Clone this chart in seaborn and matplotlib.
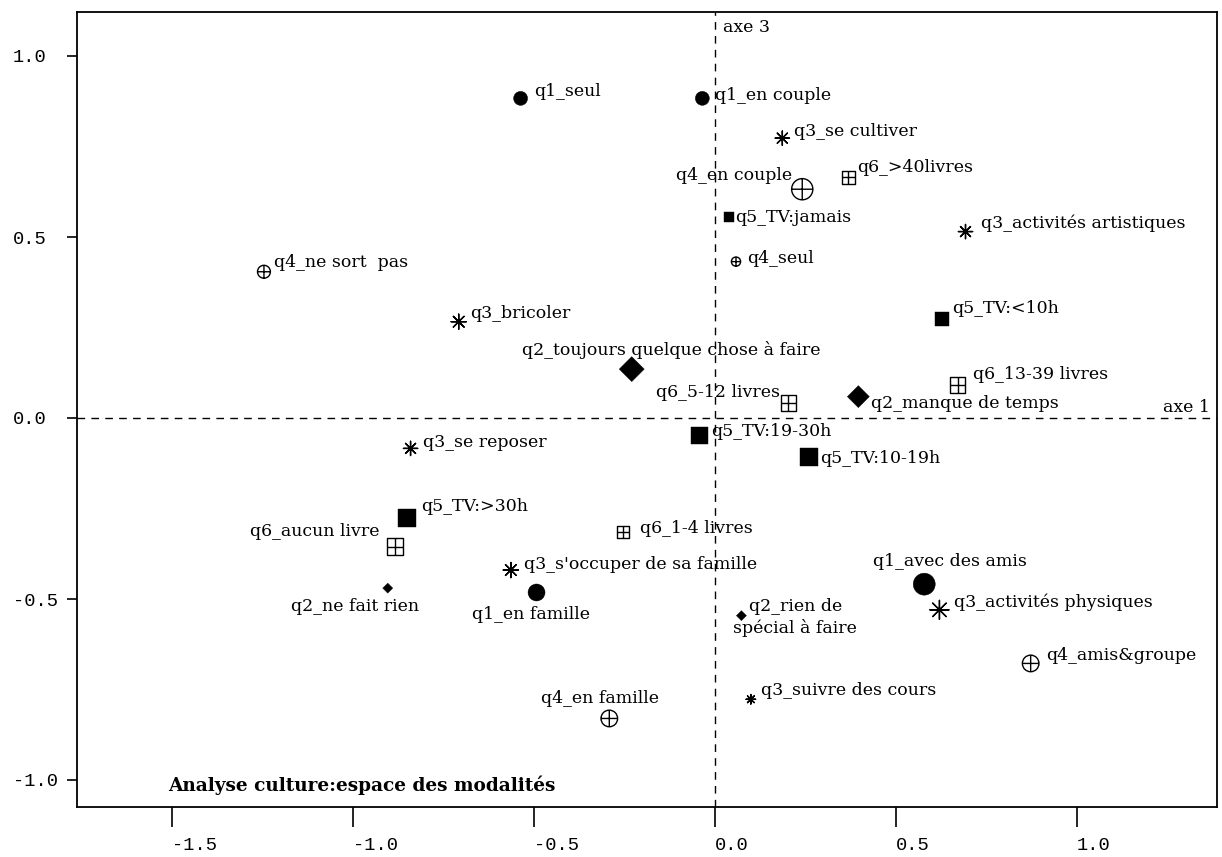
import pandas as pd
import matplotlib.pyplot as plt
import seaborn as sns
from matplotlib.path import Path

# Modalités et coordonnées sur le plan factoriel (axe 1 / axe 3)
modalites = [
    "q1_seul", "q1_en couple", "q1_en famille", "q1_avec des amis",
    "q2_toujours quelque chose à faire", "q2_manque de temps", "q2_ne fait rien",
    "q2_rien de\nspécial à faire",
    "q3_se cultiver", "q3_activités artistiques", "q3_bricoler", "q3_se reposer",
    "q3_s'occuper de sa famille", "q3_activités physiques", "q3_suivre des cours",
    "q4_en couple", "q4_ne sort  pas", "q4_seul", "q4_en famille", "q4_amis&groupe",
    "q5_TV:jamais", "q5_TV:<10h", "q5_TV:19-30h", "q5_TV:10-19h", "q5_TV:>30h",
    "q6_>40livres", "q6_5-12 livres", "q6_13-39 livres", "q6_aucun livre", "q6_1-4 livres",
]
axe1 = [
    -0.537, -0.035, -0.493, 0.578,
    -0.230, 0.396, -0.904, 0.073,
    0.186, 0.692, -0.708, -0.841, -0.564, 0.620, 0.099,
    0.241, -1.246, 0.058, -0.292, 0.872,
    0.040, 0.627, -0.044, 0.259, -0.850,
    0.368, 0.203, 0.670, -0.884, -0.253,
]
axe3 = [
    0.883, 0.883, -0.482, -0.459,
    0.135, 0.059, -0.470, -0.546,
    0.773, 0.515, 0.266, -0.084, -0.420, -0.530, -0.777,
    0.632, 0.404, 0.432, -0.830, -0.678,
    0.554, 0.273, -0.047, -0.107, -0.277,
    0.665, 0.041, 0.091, -0.355, -0.316,
]
# poids relatif de chaque modalité (taille du symbole)
poids = [
    1.96, 1.96, 2.89, 4.84,
    6.25, 4.84, 1.00, 1.00,
    2.25, 2.25, 2.56, 2.25, 2.56, 4.00, 1.00,
    5.29, 1.96, 1.00, 3.24, 3.24,
    1.00, 1.96, 2.89, 3.24, 3.24,
    1.96, 2.89, 2.89, 3.24, 1.69,
]

xticks = [-1.5, -1.0, -0.5, 0.0, 0.5, 1.0]
yticks = [-1.0, -0.5, 0.0, 0.5, 1.0]
titre = "Analyse culture:espace des modalités"

# Placement des étiquettes : décalage en pixels (dx, dy vers le bas) et alignement
placement = {
    "q1_seul": (14, -7, "left"),
    "q1_en couple": (13, -3, "left"),
    "q1_en famille": (-6, 22, "center"),
    "q1_avec des amis": (26, -23, "center"),
    "q2_toujours quelque chose à faire": (40, -19, "center"),
    "q2_manque de temps": (13, 7, "left"),
    "q2_ne fait rien": (-33, 18, "center"),
    "q2_rien de\nspécial à faire": (54, 2, "center"),
    "q3_se cultiver": (12, -7, "left"),
    "q3_activités artistiques": (15, -8, "left"),
    "q3_bricoler": (11, -8, "left"),
    "q3_se reposer": (12, -6, "left"),
    "q3_s'occuper de sa famille": (13, -6, "left"),
    "q3_activités physiques": (15, -8, "left"),
    "q3_suivre des cours": (10, -9, "left"),
    "q4_en couple": (-10, -14, "right"),
    "q4_ne sort  pas": (10, -9, "left"),
    "q4_seul": (11, -3, "left"),
    "q4_en famille": (-9, -20, "center"),
    "q4_amis&groupe": (15, -8, "left"),
    "q5_TV:jamais": (6, 0, "left"),
    "q5_TV:<10h": (10, -11, "left"),
    "q5_TV:19-30h": (12, -4, "left"),
    "q5_TV:10-19h": (11, 2, "left"),
    "q5_TV:>30h": (14, -12, "left"),
    "q6_>40livres": (9, -10, "left"),
    "q6_5-12 livres": (-8, -11, "right"),
    "q6_13-39 livres": (15, -11, "left"),
    "q6_aucun livre": (-15, -15, "right"),
    "q6_1-4 livres": (17, -4, "left"),
}

# Symboles : cercle barré d'une croix et carré barré d'une croix
cercle_plus = Path.make_compound_path(
    Path.unit_circle(), Path([(-1, 0), (1, 0)]), Path([(0, -1), (0, 1)])
)
carre_plus = Path.make_compound_path(
    Path([(-1, -1), (1, -1), (1, 1), (-1, 1), (-1, -1)], closed=True),
    Path([(-1, 0), (1, 0)]),
    Path([(0, -1), (0, 1)]),
)
symboles = {
    "q1": dict(marker="o", facteur=1.0, kws=dict(color="black", edgecolor="black", linewidth=0.3)),
    "q2": dict(marker="D", facteur=0.5, kws=dict(color="black", edgecolor="black", linewidth=0.3)),
    "q3": dict(marker=(8, 2, 0), facteur=0.9, kws=dict(color="black", linewidth=1.0)),
    "q4": dict(marker=cercle_plus, facteur=0.85,
               kws=dict(color="black", facecolor="none", edgecolor="black", linewidth=1.0)),
    "q5": dict(marker="s", facteur=1.0, kws=dict(color="black", edgecolor="black", linewidth=0.3)),
    "q6": dict(marker=carre_plus, facteur=0.85,
               kws=dict(color="black", facecolor="none", edgecolor="black", linewidth=1.0)),
}


def main():
    sns.set_theme(style="white")
    plt.rcParams["font.family"] = ["DejaVu Serif"]
    plt.rcParams["text.color"] = "black"

    df = pd.DataFrame({"modalite": modalites, "axe1": axe1, "axe3": axe3, "poids": poids})
    df["question"] = df["modalite"].str[:2]

    fig = plt.figure(figsize=(12.22, 8.57), dpi=100)
    ax = fig.add_axes([77 / 1222, 50 / 857, 1140 / 1222, 795 / 857])

    # aire en points^2 : 1 px = 0.72 pt, poids = (diamètre px / 10)^2
    aire = 51.84
    pmin, pmax = min(poids), max(poids)
    for q, sub in df.groupby("question"):
        st = symboles[q]
        f = st["facteur"]
        sns.scatterplot(
            data=sub, x="axe1", y="axe3", size="poids",
            sizes=(aire * pmin * f, aire * pmax * f), size_norm=(pmin, pmax),
            marker=st["marker"], legend=False, ax=ax, zorder=3, **st["kws"]
        )

    # axes factoriels en pointillés
    ax.axhline(0, color="black", lw=1.0, ls=(0, (5.5, 4.5)), zorder=1)
    ax.axvline(0, color="black", lw=1.0, ls=(0, (5.5, 4.5)), zorder=1)

    for _, row in df.iterrows():
        dx, dy, ha = placement[row["modalite"]]
        ax.annotate(
            row["modalite"], (row["axe1"], row["axe3"]), xytext=(dx, -dy),
            textcoords="offset pixels", ha=ha, va="center", fontsize=12.5,
            multialignment="center", linespacing=1.3, color="black",
        )

    ax.annotate("axe 1", xy=(1, 0), xycoords=("axes fraction", "data"), xytext=(-7, 11),
                textcoords="offset pixels", ha="right", va="center", fontsize=12.5,
                color="black")
    ax.annotate("axe 3", xy=(0, 1), xycoords=("data", "axes fraction"), xytext=(8, -15),
                textcoords="offset pixels", ha="left", va="center", fontsize=12.5,
                color="black")
    ax.text(0.080, 0.027, titre, transform=ax.transAxes, fontsize=13.3,
            fontweight="bold", ha="left", va="center", color="black")

    ax.set_xlim(-638 / 362, 502 / 362)
    ax.set_ylim(-389 / 362, 406 / 362)
    ax.set_xlabel("")
    ax.set_ylabel("")

    ax.set_xticks(xticks)
    ax.set_xticklabels([f"{v:.1f}" for v in xticks], family="Liberation Mono",
                       fontsize=13.5, ha="left")
    ax.set_yticks(yticks)
    ax.set_yticklabels([f"{v:.1f}" for v in yticks], family="Liberation Mono",
                       fontsize=13.5, ha="left")
    ax.tick_params(axis="x", direction="out", length=14.4, width=1.2, color="black",
                   pad=7, labelcolor="black", bottom=True)
    ax.tick_params(axis="y", direction="out", length=7.2, width=1.2, color="black",
                   pad=38.9, labelcolor="black", left=True)

    for sp in ax.spines.values():
        sp.set_color("black")
        sp.set_linewidth(1.3)

    fig.savefig("out.png", dpi=100)


if __name__ == "__main__":
    main()
